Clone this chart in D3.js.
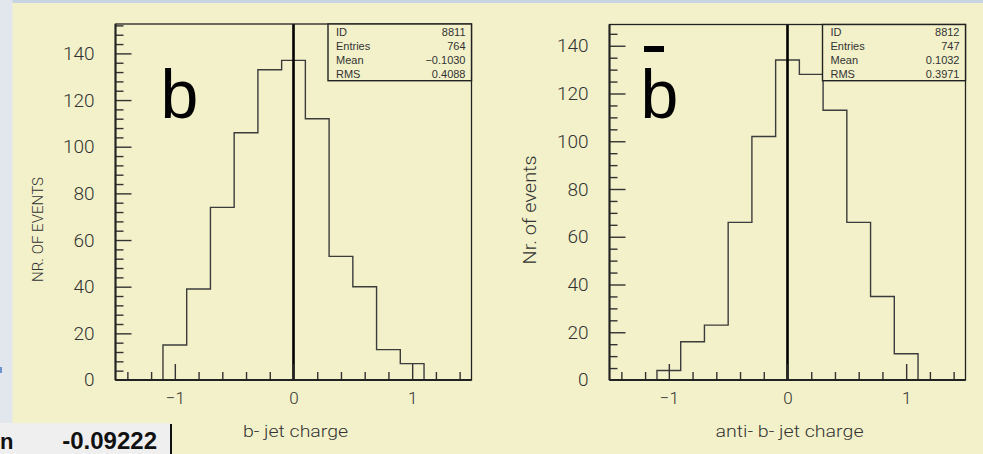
<!DOCTYPE html>
<html>
<head>
<meta charset="utf-8">
<script src="https://cdn.jsdelivr.net/npm/d3@7"></script>
<style>
  body { margin: 0; background: #f2f1ca; overflow: hidden; }
  svg { display: block; }
</style>
</head>
<body>
<svg width="983" height="454"></svg>
<script>
// Histogram bins: centres, width 0.2
const binCenters = [-1.0, -0.8, -0.6, -0.4, -0.2, 0.0, 0.2, 0.4, 0.6, 0.8, 1.0];
const binWidth = 0.2;

// Counts per bin
const bCounts = [15, 39, 74, 106, 133, 137, 112, 53, 40, 13, 7];
const antiBCounts = [4, 16, 23, 66, 102, 134, 128, 113, 66, 35, 11];

// Axis tick labels
const xTickLabels = [-1, 0, 1];
const yTickLabels = [0, 20, 40, 60, 80, 100, 120, 140];

// Statistics boxes
const statNames = ["ID", "Entries", "Mean", "RMS"];
const bStatValues = ["8811", "764", "\u22120.1030", "0.4088"];
const antiBStatValues = ["8812", "747", "0.1032", "0.3971"];

const svg = d3.select("svg");
const fmt = (d) => (d < 0 ? "\u2212" + Math.abs(d) : String(d));

// Window bits around the plot (screenshot background)
svg.append("rect").attr("x", 0).attr("y", 0).attr("width", 983).attr("height", 3).attr("fill", "#c9d4e2");
svg.append("rect").attr("x", 0).attr("y", 0).attr("width", 12.5).attr("height", 423).attr("fill", "#e2e7ee");
svg.append("rect").attr("x", 0).attr("y", 367).attr("width", 2).attr("height", 6).attr("fill", "#6a93cf");
svg.append("rect").attr("x", 0).attr("y", 423).attr("width", 171).attr("height", 31).attr("fill", "#efefef");
svg.append("rect").attr("x", 170).attr("y", 424).attr("width", 2).attr("height", 30).attr("fill", "#111");
svg.append("text").attr("x", 0).attr("y", 449)
  .style("font", "bold 22px 'Liberation Sans', Arial, sans-serif").attr("fill", "#111").text("n");
svg.append("text").attr("x", 157).attr("y", 449).attr("text-anchor", "end")
  .style("font", "bold 24px 'Liberation Sans', Arial, sans-serif").attr("fill", "#111").text("-0.09222");

const panels = [
  {
    left: 115.5, right: 471.5, top: 24, bottom: 380, yMax: 152.6, minorStep: 4,
    counts: bCounts, stats: bStatValues, boxLeft: 328,
    yTitle: "NR. OF EVENTS", yTitleX: 43, yTitleY: 229.5, yTitleLen: 105, yTitleSize: 14,
    xTitle: "b- jet charge", xTitleLen: 105, letterX: 160.5, bar: false
  },
  {
    left: 609.5, right: 965.5, top: 24.5, bottom: 380, yMax: 148.9, minorStep: 5,
    counts: antiBCounts, stats: antiBStatValues, boxLeft: 822.5,
    yTitle: "Nr. of events", yTitleX: 535.5, yTitleY: 210, yTitleLen: 109, yTitleSize: 18,
    xTitle: "anti- b- jet charge", xTitleLen: 148, letterX: 640.5, bar: true
  }
];

function drawPanel(p) {
  const x = d3.scaleLinear().domain([-1.5, 1.5]).range([p.left, p.right]);
  const y = d3.scaleLinear().domain([0, p.yMax]).range([p.bottom, p.top]);
  const g = svg.append("g");

  // Histogram outline
  const pts = [];
  p.counts.forEach((c, i) => {
    const lo = binCenters[i] - binWidth / 2, hi = binCenters[i] + binWidth / 2;
    if (i === 0) pts.push([lo, 0]);
    pts.push([lo, c], [hi, c]);
    if (i === p.counts.length - 1) pts.push([hi, 0]);
  });
  g.append("path")
    .attr("d", d3.line().x((d) => x(d[0])).y((d) => y(d[1]))(pts))
    .attr("fill", "none")
    .attr("stroke", "#3c3c3c")
    .attr("stroke-width", 1.4);

  // Vertical line at zero
  g.append("line")
    .attr("x1", x(0)).attr("x2", x(0))
    .attr("y1", p.top).attr("y2", p.bottom)
    .attr("stroke", "#000").attr("stroke-width", 2.6);

  // Frame
  g.append("rect")
    .attr("x", p.left).attr("y", p.top)
    .attr("width", p.right - p.left).attr("height", p.bottom - p.top)
    .attr("fill", "none").attr("stroke", "#222").attr("stroke-width", 1.3);

  // Y axis: minor and major ticks drawn inward
  const yMinor = d3.range(p.minorStep, p.yMax, p.minorStep).filter((v) => v % 20 !== 0);
  const yMinorAxis = g.append("g").attr("transform", `translate(${p.left},0)`)
    .call(d3.axisLeft(y).tickValues(yMinor).tickSize(-8).tickFormat(""));
  const yMajorAxis = g.append("g").attr("transform", `translate(${p.left},0)`)
    .call(d3.axisLeft(y).tickValues(yTickLabels.filter((v) => v > 0)).tickSize(-16).tickPadding(21).tickFormat(fmt));
  g.append("text").attr("x", p.left - 21).attr("y", y(0)).attr("dy", "0.34em")
    .attr("text-anchor", "end").attr("class", "ylab").text("0");

  // X axis
  const xMinor = d3.range(-14, 15, 2).map((v) => v / 10).filter((v) => !xTickLabels.includes(v));
  const xMinorAxis = g.append("g").attr("transform", `translate(0,${p.bottom})`)
    .call(d3.axisBottom(x).tickValues(xMinor).tickSize(-8).tickFormat(""));
  const xMajorAxis = g.append("g").attr("transform", `translate(0,${p.bottom})`)
    .call(d3.axisBottom(x).tickValues(xTickLabels).tickSize(-16).tickPadding(11.5).tickFormat(fmt));

  [yMinorAxis, yMajorAxis, xMinorAxis, xMajorAxis].forEach((a) => {
    a.select(".domain").remove();
    a.selectAll("line").attr("stroke", "#333").attr("stroke-width", 1.4);
  });
  yMajorAxis.selectAll("text").attr("class", "ylab");
  xMajorAxis.selectAll("text").attr("class", "xlab");

  // Heavier left and bottom axis lines
  g.append("line").attr("x1", p.left).attr("x2", p.left).attr("y1", p.top).attr("y2", p.bottom)
    .attr("stroke", "#222").attr("stroke-width", 2);
  g.append("line").attr("x1", p.left).attr("x2", p.right).attr("y1", p.bottom).attr("y2", p.bottom)
    .attr("stroke", "#222").attr("stroke-width", 2.2);

  // Axis titles
  g.append("text")
    .attr("transform", `translate(${p.yTitleX},${p.yTitleY}) rotate(-90)`)
    .attr("text-anchor", "middle")
    .attr("textLength", p.yTitleLen).attr("lengthAdjust", "spacingAndGlyphs")
    .attr("class", "title").style("font-size", p.yTitleSize + "px")
    .text(p.yTitle);
  g.append("text")
    .attr("x", (p.left + p.right) / 2 + 2).attr("y", 436.5)
    .attr("text-anchor", "middle")
    .attr("textLength", p.xTitleLen).attr("lengthAdjust", "spacingAndGlyphs")
    .attr("class", "title").style("font-size", "16px")
    .text(p.xTitle);

  // Statistics box
  const box = g.append("g");
  box.append("rect")
    .attr("x", p.boxLeft).attr("y", p.top)
    .attr("width", p.right - p.boxLeft).attr("height", 80.7 - p.top)
    .attr("fill", "#f2f1ca").attr("stroke", "#222").attr("stroke-width", 1.4);
  statNames.forEach((name, i) => {
    box.append("text").attr("x", p.boxLeft + 8).attr("y", 36 + i * 13.9)
      .attr("class", "stat").text(name);
    box.append("text").attr("x", p.right - 6).attr("y", 36 + i * 13.9)
      .attr("text-anchor", "end").attr("class", "stat").text(p.stats[i]);
  });

  // Big quark label
  g.append("text").attr("x", p.letterX).attr("y", 118)
    .style("font", "68px 'Liberation Sans', Arial, sans-serif").attr("fill", "#000").text("b");
  if (p.bar) {
    g.append("rect").attr("x", p.letterX + 3.5).attr("y", 46).attr("width", 20).attr("height", 6).attr("fill", "#000");
  }
}

panels.forEach(drawPanel);

svg.selectAll(".ylab").style("font", "300 19px Roboto, 'Liberation Sans', sans-serif").attr("fill", "#333");
svg.selectAll(".xlab").style("font", "300 17px Roboto, 'Liberation Sans', sans-serif").attr("fill", "#333");
svg.selectAll(".title").style("font-family", "Roboto, 'Liberation Sans', sans-serif").style("font-weight", 300).attr("fill", "#333");
svg.selectAll(".stat").style("font", "11px 'Liberation Sans', Arial, sans-serif").attr("fill", "#333");
</script>
</body>
</html>
